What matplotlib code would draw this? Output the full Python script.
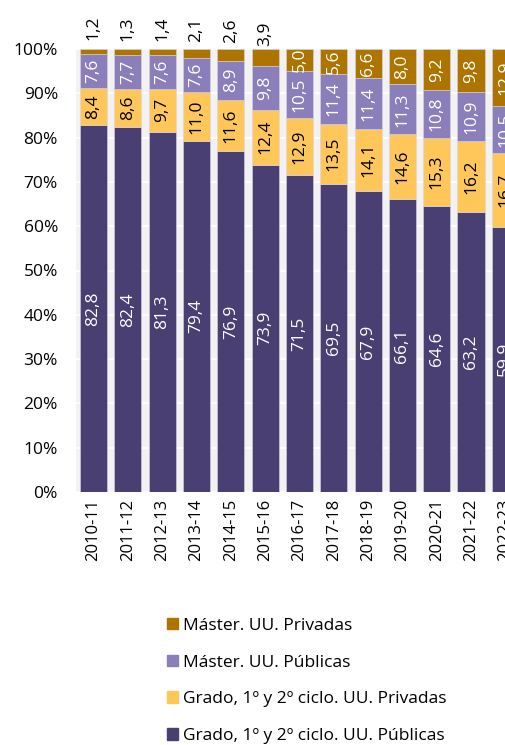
import matplotlib
matplotlib.use('Agg')
import matplotlib.pyplot as plt
import matplotlib.patches as mpatches
import numpy as np

# DATA
cursos = ['2010-11', '2011-12', '2012-13', '2013-14', '2014-15', '2015-16', '2016-17',
          '2017-18', '2018-19', '2019-20', '2020-21', '2021-22', '2022-23']
grado_pub = [82.8, 82.4, 81.3, 79.4, 76.9, 73.9, 71.5, 69.5, 67.9, 66.1, 64.6, 63.2, 59.9]
grado_priv = [8.4, 8.6, 9.7, 11.0, 11.6, 12.4, 12.9, 13.5, 14.1, 14.6, 15.3, 16.2, 16.7]
master_pub = [7.6, 7.7, 7.6, 7.6, 8.9, 9.8, 10.5, 11.4, 11.4, 11.3, 10.8, 10.9, 10.5]
master_priv = [1.2, 1.3, 1.4, 2.1, 2.6, 3.9, 5.0, 5.6, 6.6, 8.0, 9.2, 9.8, 12.9]

series = [
    ('Grado, 1º y 2º ciclo. UU. Públicas', grado_pub, '#4a3f72', 'white'),
    ('Grado, 1º y 2º ciclo. UU. Privadas', grado_priv, '#ffc65a', 'black'),
    ('Máster. UU. Públicas', master_pub, '#8b7fbb', 'white'),
    ('Máster. UU. Privadas', master_priv, '#ad7500', 'white'),
]

plt.rcParams['font.family'] = ['Open Sans', 'DejaVu Sans']
FS = 12.5

fig = plt.figure(figsize=(5.06, 7.45), dpi=100)
ax = fig.add_axes([76 / 506, 1 - 492 / 745, 446.5 / 506, 443 / 745])
ax.set_facecolor('#f2f2f2')

x = np.arange(len(cursos))
totals = np.sum([s[1] for s in series], axis=0)
bottom = np.zeros(len(cursos))
for name, vals, color, tcol in series:
    h = np.array(vals) / totals * 100
    ax.bar(x, h, bottom=bottom, width=0.79, color=color, edgecolor='#d8d4e6',
           linewidth=0.4, label=name, zorder=3)
    for i, v in enumerate(vals):
        yc = bottom[i] + h[i] / 2
        txt = f'{v:.1f}'.replace('.', ',')
        if name.startswith('Máster. UU. Privadas') and v < 4.5:
            ax.annotate(txt, (x[i], yc), xytext=(0, 17), textcoords='offset points',
                        rotation=90, ha='center', va='center', fontsize=FS,
                        color='black', annotation_clip=False, zorder=4)
        else:
            ax.text(x[i], yc, txt, rotation=90, ha='center', va='center',
                    fontsize=FS, color=tcol, zorder=4)
    bottom += h

ax.set_xlim(-0.51, 12.5)
ax.set_ylim(0, 100)
ax.set_yticks(range(0, 101, 10))
ax.set_yticklabels([f'{v}%' for v in range(0, 101, 10)], fontsize=FS)
ax.set_xticks(x)
ax.set_xticklabels(cursos, rotation=90, fontsize=12)
ax.tick_params(axis='y', length=0, pad=13)
ax.tick_params(axis='x', length=0, pad=5)
ax.grid(axis='y', color='white', linewidth=1.2, zorder=1)
ax.set_axisbelow(True)
for s in ax.spines.values():
    s.set_visible(False)

handles = [mpatches.Patch(color=s[2]) for s in reversed(series)]
labels = [s[0] for s in reversed(series)]
fig.legend(handles, labels, loc='upper left', bbox_to_anchor=(158 / 506, 1 - 609 / 745),
           frameon=False, fontsize=FS, handlelength=0.65, handleheight=0.65,
           handletextpad=0.3, labelspacing=1.2, borderpad=0)

fig.savefig('out.png', dpi=100)
